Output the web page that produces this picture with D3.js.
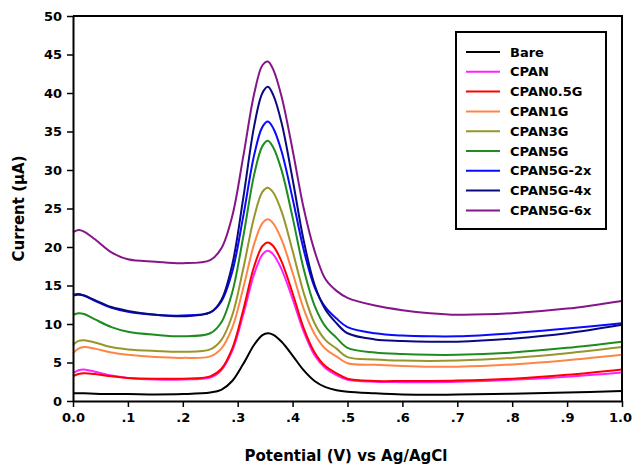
<!DOCTYPE html>
<html>
<head>
<meta charset="utf-8">
<script src="https://cdn.jsdelivr.net/npm/d3@7/dist/d3.min.js"></script>
<style>
  html, body { margin: 0; padding: 0; background: #fff; }
  svg { display: block; }
  text { font-family: "DejaVu Sans", "Liberation Sans", Arial, sans-serif; font-weight: bold; fill: #000; }
</style>
</head>
<body>
<svg id="chart" width="632" height="466"></svg>
<script>
// ---- Data ----
const potential = [0, .01, .02, .04, .07, .1, .15, .2, .25, .27, .29, .31, .33, .345, .355, .365, .38, .4, .42, .44, .46, .48, .5, .55, .6, .65, .7, .8, .9, 1.0];

const seriesNames = ["Bare", "CPAN", "CPAN0.5G", "CPAN1G", "CPAN3G", "CPAN5G", "CPAN5G-2x", "CPAN5G-4x", "CPAN5G-6x"];
const seriesColors = ["#000000", "#ff22ff", "#ff0000", "#ff8547", "#96962a", "#1e8c1e", "#0a0aff", "#0a0a80", "#84168a"];

const bare     = [1.0,1.0,1.0,0.95,0.9,0.9,0.85,0.9, 1.1,1.45,2.6,4.8,7.3,8.55,8.8,8.6,7.7,5.9,4.0,2.6,1.8,1.4, 1.2,1.0,0.85,0.8,0.85,0.95,1.1,1.3];
const cpan     = [3.6,4.0,4.1,3.8,3.3,3.0,2.8,2.8, 3.05,4.0,6.5,11.2,16.5,19.0,19.5,19.0,17.1,13.25,9.05,5.95,4.25,3.35, 2.75,2.5,2.45,2.45,2.5,2.75,3.15,3.7];
const cpan05g  = [3.2,3.5,3.6,3.5,3.2,3.0,2.9,2.9, 3.2,4.15,6.8,11.8,17.5,20.1,20.6,20.1,18.1,14.0,9.5,6.3,4.5,3.6, 2.9,2.6,2.6,2.6,2.65,2.9,3.4,4.1];
const cpan1g   = [6.2,6.8,7.0,6.8,6.3,6.0,5.7,5.6, 5.8,6.8,9.5,14.65,20.4,23.1,23.6,23.05,20.95,16.65,12.0,8.7,6.75,5.8, 4.9,4.7,4.55,4.45,4.45,4.75,5.3,6.0];
const cpan3g   = [7.3,7.8,7.9,7.6,7.0,6.7,6.5,6.4, 6.7,7.9,11.1,17.15,23.9,27.15,27.7,27.05,24.6,19.5,14.1,10.1,7.9,6.8, 5.7,5.4,5.25,5.2,5.25,5.6,6.2,7.0];
const cpan5g   = [11.2,11.4,11.3,10.6,9.6,9.0,8.6,8.4, 8.8,10.2,14.1,21.3,29.4,33.1,33.8,32.9,29.95,23.85,17.2,12.4,9.65,8.2, 6.9,6.3,6.1,6.0,6.0,6.3,6.9,7.7];
const cpan5g2x = [13.7,13.8,13.7,13.0,12.1,11.6,11.2,11.1, 11.5,12.9,16.75,23.95,31.95,35.6,36.3,35.4,32.4,26.3,19.7,14.8,12.15,10.7, 9.6,8.8,8.5,8.4,8.4,8.8,9.4,10.1];
const cpan5g4x = [13.8,13.9,13.7,13.1,12.2,11.7,11.2,11.0, 11.5,13.1,17.7,26.3,35.7,40.0,40.8,39.7,36.1,28.8,20.9,15.1,11.85,10.1, 8.8,8.0,7.8,7.7,7.7,8.1,8.8,9.9];
const cpan5g6x = [21.9,22.2,22.0,21.0,19.3,18.4,18.1,17.9, 18.3,19.8,24.0,31.7,39.9,43.6,44.1,43.0,39.5,32.6,25.1,19.5,15.8,14.3, 13.4,12.4,11.8,11.4,11.2,11.4,12.0,13.0];

const xTickValues = [0, .1, .2, .3, .4, .5, .6, .7, .8, .9, 1.0];
const xTickLabels = ["0.0", ".1", ".2", ".3", ".4", ".5", ".6", ".7", ".8", ".9", "1.0"];
const yTickValues = [0, 5, 10, 15, 20, 25, 30, 35, 40, 45, 50];
const yTickLabels = ["0", "5", "10", "15", "20", "25", "30", "35", "40", "45", "50"];

const xTitle = "Potential (V) vs Ag/AgCl";
const yTitle = "Current (\u03BCA)";

// ---- Chart ----
const allSeries = [bare, cpan, cpan05g, cpan1g, cpan3g, cpan5g, cpan5g2x, cpan5g4x, cpan5g6x];

const margin = { left: 73, right: 10, top: 16, bottom: 65 };
const W = 632, H = 466;
const svg = d3.select("#chart");

const x = d3.scaleLinear().domain([0, 1]).range([margin.left, W - margin.right]);
const y = d3.scaleLinear().domain([0, 50]).range([H - margin.bottom, margin.top]);

// lines
const line = d3.line()
  .x((d, i) => x(potential[i]))
  .y(d => y(d))
  .curve(d3.curveCatmullRom.alpha(0.5));

svg.append("g").selectAll("path")
  .data(allSeries)
  .join("path")
  .attr("d", d => line(d))
  .attr("fill", "none")
  .attr("stroke", (d, i) => seriesColors[i])
  .attr("stroke-width", 2)
  .attr("stroke-linejoin", "round");

// frame (top and right)
svg.append("path")
  .attr("d", `M${x(0)},${y(50)}H${x(1)}V${y(0)}`)
  .attr("fill", "none")
  .attr("stroke", "#000")
  .attr("stroke-width", 2);

// axes
const xAxis = d3.axisBottom(x)
  .tickValues(xTickValues)
  .tickFormat((d, i) => xTickLabels[i])
  .tickSize(6).tickSizeOuter(0).tickPadding(6);
const gx = svg.append("g").attr("transform", `translate(0,${y(0)})`).call(xAxis);

const yAxis = d3.axisLeft(y)
  .tickValues(yTickValues)
  .tickFormat((d, i) => yTickLabels[i])
  .tickSize(6).tickSizeOuter(0).tickPadding(5);
const gy = svg.append("g").attr("transform", `translate(${x(0)},0)`).call(yAxis);

[gx, gy].forEach(g => {
  g.select(".domain").attr("stroke", "#000").attr("stroke-width", 2);
  g.selectAll(".tick line").attr("stroke", "#000").attr("stroke-width", 1.5);
  g.selectAll(".tick text")
    .style("font-family", '"DejaVu Sans", sans-serif')
    .style("font-weight", "bold")
    .style("font-size", "13px")
    .attr("fill", "#000");
});
// keep the last x label inside the window
gx.selectAll(".tick text").filter((d, i) => i === xTickValues.length - 1).attr("dx", "-2");

// axis titles
svg.append("text")
  .attr("x", 346)
  .attr("y", 461)
  .attr("text-anchor", "middle")
  .style("font-size", "15px")
  .text(xTitle);

svg.append("text")
  .attr("transform", `translate(24,${(y(0) + y(50)) / 2}) rotate(-90)`)
  .attr("text-anchor", "middle")
  .style("font-size", "15px")
  .text(yTitle);

// legend
const legend = svg.append("g").attr("transform", "translate(456,32)");
legend.append("rect")
  .attr("x", 0).attr("y", 0)
  .attr("width", 150).attr("height", 197)
  .attr("fill", "#fff")
  .attr("stroke", "#000")
  .attr("stroke-width", 2);

const items = legend.selectAll("g.item")
  .data(seriesNames)
  .join("g")
  .attr("class", "item")
  .attr("transform", (d, i) => `translate(0,${20 + i * 19.8})`);

items.append("line")
  .attr("x1", 10).attr("x2", 44)
  .attr("y1", 0).attr("y2", 0)
  .attr("stroke", (d, i) => seriesColors[i])
  .attr("stroke-width", 2);

items.append("text")
  .attr("x", 54)
  .attr("y", 0)
  .attr("dy", "0.36em")
  .style("font-size", "13px")
  .text(d => d);
</script>
</body>
</html>
